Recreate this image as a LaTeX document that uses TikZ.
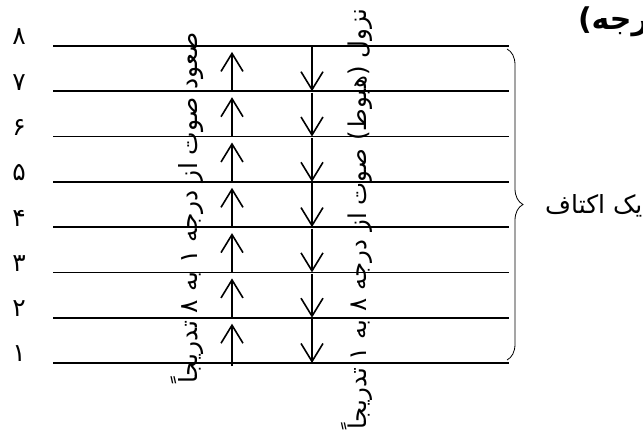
\documentclass[tikz,border=0pt]{standalone}
\usepackage{fontspec}
\usetikzlibrary{arrows.meta,decorations.pathreplacing}
\newfontfamily\arabicfont[Script=Arabic]{DejaVu Sans}
\TeXXeTstate=1
\tikzset{
  hline/.style={line width=1.6pt},
  uparrow/.style={line width=1.6pt,-{Straight Barb[length=18pt,width=22pt]}},
  dnarrow/.style={line width=1.6pt,-{Straight Barb[length=18pt,width=22pt]}},
  digit/.style={font=\arabicfont\fontsize{25}{27}\selectfont,inner sep=0pt},
  vtext/.style={font=\arabicfont\fontsize{25}{27}\selectfont,rotate=90,inner sep=0pt},
  vtextb/.style={font=\arabicfont\fontsize{24.5}{26}\selectfont,rotate=90,inner sep=0pt},
  bracestyle/.style={line width=0.8pt,decorate,decoration={brace,amplitude=16pt}},
  side/.style={font=\arabicfont\fontsize{25}{27}\selectfont,inner sep=0pt},
  titlestyle/.style={font=\arabicfont\bfseries\fontsize{30}{32}\selectfont,inner sep=0pt}
}
\begin{document}
\begin{tikzpicture}[x=1pt,y=-1pt]
\useasboundingbox (0,0) rectangle (643,434);
\clip (0,0) rectangle (643,434);
% horizontal lines and digits
\foreach \k/\d in {1/۱,2/۲,3/۳,4/۴,5/۵,6/۶,7/۷,8/۸}{
  \pgfmathsetmacro\yy{363-45.3*(\k-1)}
  \coordinate (L\k) at (53,\yy);
  \coordinate (R\k) at (509,\yy);
  \draw[hline] (L\k) -- (R\k);
  \node[digit] (D\k) at (19,\yy-9) {\d};
}
% up arrows
\coordinate (U0) at (232,366);
\foreach \k in {1,...,7}{
  \pgfmathsetmacro\ya{363-45.3*(\k-1)}
  \pgfmathsetmacro\yb{363-45.3*\k+6}
  \coordinate (UA\k) at (232,\ya);
  \coordinate (UB\k) at (232,\yb);
}
\draw[uparrow] (U0) -- (UB1);
\foreach \k in {2,...,7}{ \draw[uparrow] (UA\k) -- (UB\k); }
% down arrows
\foreach \k in {1,...,7}{
  \pgfmathsetmacro\ya{363-45.3*\k+1.5}
  \pgfmathsetmacro\yb{363-45.3*(\k-1)}
  \coordinate (DA\k) at (312,\ya);
  \coordinate (DB\k) at (312,\yb);
  \draw[dnarrow] (DA\k) -- (DB\k);
}
% vertical texts
\node[vtext] (T1) at (187,208) {\beginR صعود صوت از درجه ۱ به ۸ تدریجاً\endR};
\node[vtextb] (T2) at (357,219) {\beginR نزول (هبوط) صوت از درجه ۸ به ۱ تدریجاً\endR};
% brace
\coordinate (B1) at (507,49);
\coordinate (B2) at (507,360);
\draw[bracestyle] (B1) -- (B2);
\node[side,anchor=west] (S) at (545,206) {\beginR یک اکتاف\endR};
\node[titlestyle,anchor=east] (H) at (649,22) {\beginR رجه)\endR};
\end{tikzpicture}
\end{document}
